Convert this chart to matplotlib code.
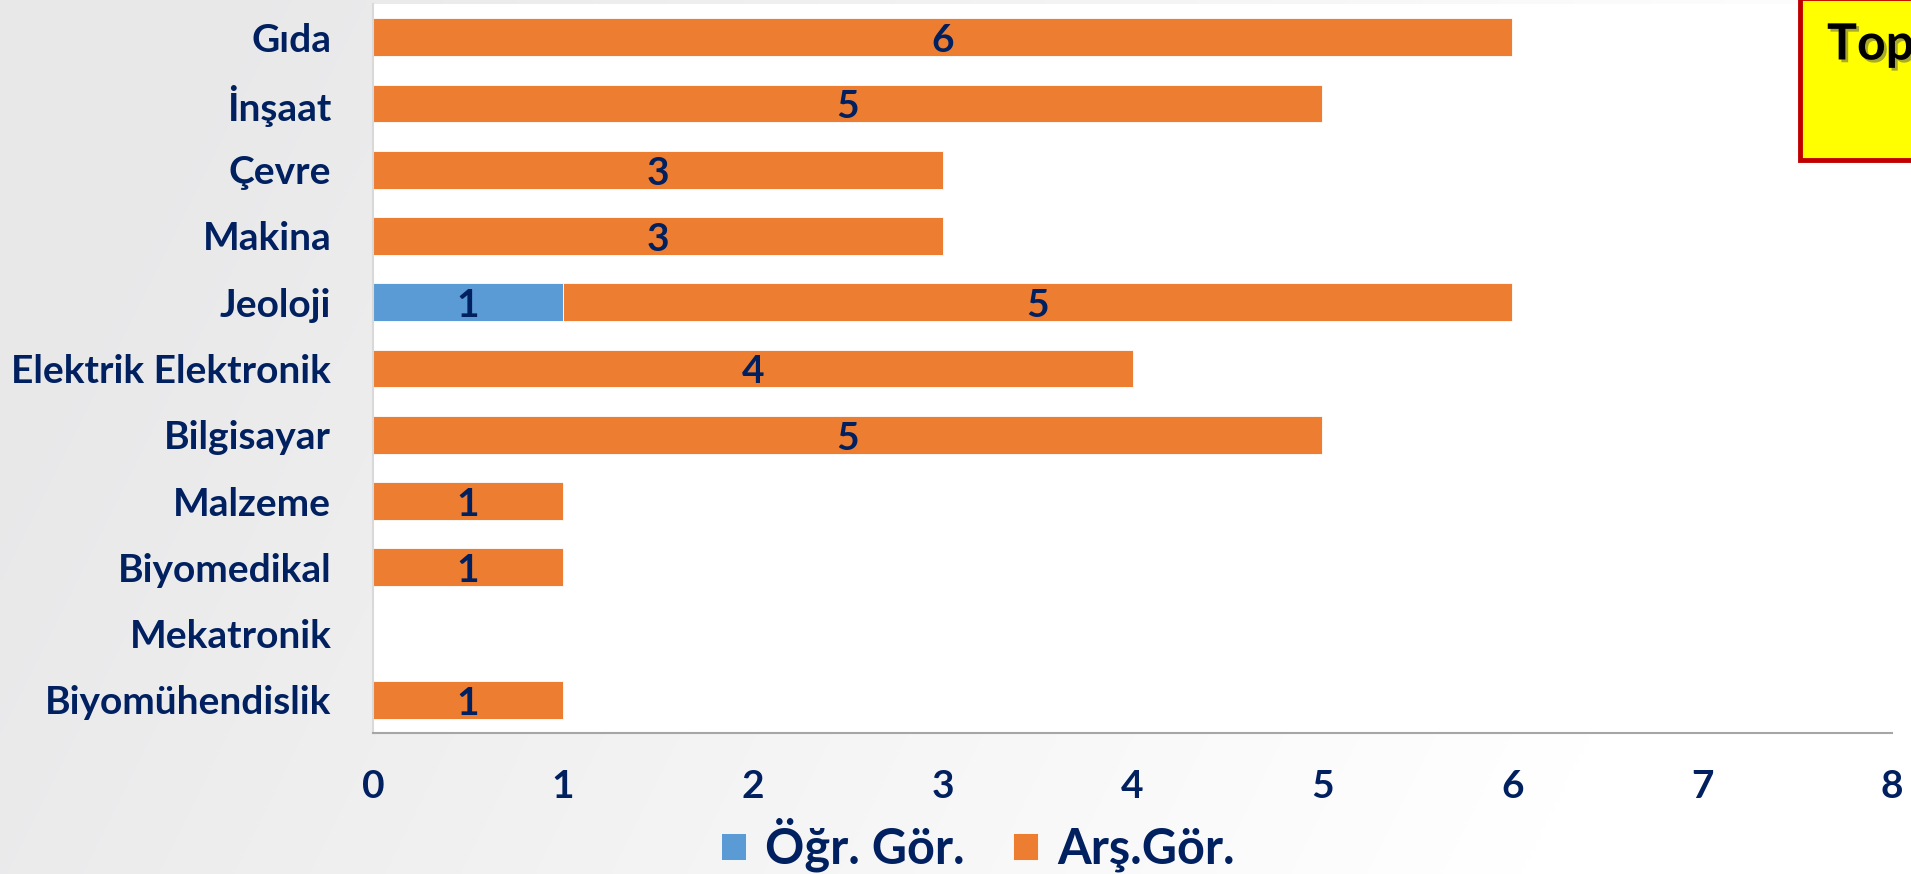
import numpy as np
import matplotlib
matplotlib.use("Agg")
import matplotlib.pyplot as plt
import matplotlib.patheffects as pe
from matplotlib.patches import Rectangle

# ---- data ----
categories = ["Gıda", "İnşaat", "Çevre", "Makina", "Jeoloji", "Elektrik Elektronik",
              "Bilgisayar", "Malzeme", "Biyomedikal", "Mekatronik", "Biyomühendislik"]
ogr_gor = [0, 0, 0, 0, 1, 0, 0, 0, 0, 0, 0]
ars_gor = [6, 5, 3, 3, 5, 4, 5, 1, 1, 0, 1]
series_names = ["Öğr. Gör.", "Arş.Gör."]
x_ticks = [0, 1, 2, 3, 4, 5, 6, 7, 8]
box_text = "Top"

plt.rcParams['font.family'] = ['Lato', 'DejaVu Sans']
plt.rcParams['font.weight'] = 'bold'
NAVY = "#002060"
BLUE = "#5B9BD5"
ORANGE = "#ED7D31"

W, H = 1911, 874
fig = plt.figure(figsize=(W / 100, H / 100), dpi=100)

# background gradient (smooth, light gray at left to white at right)
bg = fig.add_axes([0, 0, 1, 1], zorder=-10)
xx, yy = np.meshgrid(np.linspace(0, 1, 400), np.linspace(0, 1, 200))
g = np.clip(1.1 * xx + 0.25 * (yy - 0.5), 0, 1)
c0 = np.array([0.91, 0.91, 0.915])
c1 = np.array([1.0, 1.0, 1.0])
img = c0[None, None, :] * (1 - g[..., None]) + c1[None, None, :] * g[..., None]
bg.imshow(img, aspect='auto', extent=[0, 1, 0, 1], origin='upper', interpolation='bilinear')
bg.axis('off')

left, right = 373 / W, 1892 / W
bottom, top = 1 - 733 / H, 1 - 4 / H
ax = fig.add_axes([left, bottom, right - left, top - bottom])
ax.set_facecolor('white')

n = len(categories)
y = np.arange(n)
b1 = ax.barh(y, ogr_gor, height=0.57, color=BLUE, edgecolor='white', linewidth=0.6, label=series_names[0])
b2 = ax.barh(y, ars_gor, left=ogr_gor, height=0.57, color=ORANGE, edgecolor='white', linewidth=0.6, label=series_names[1])

for yi, a, b in zip(y, ogr_gor, ars_gor):
    if a:
        ax.annotate(str(a), (a / 2, yi), xytext=(0, -2.5), textcoords='offset points',
                    ha='center', va='center', color=NAVY, fontsize=28, fontweight='bold')
    if b:
        ax.annotate(str(b), (a + b / 2, yi), xytext=(0, -2.5), textcoords='offset points',
                    ha='center', va='center', color=NAVY, fontsize=28, fontweight='bold')

ax.set_ylim(n - 0.5, -0.5)
ax.set_xlim(0, 8)
ax.set_yticks(y)
ax.set_yticklabels(categories)
ax.set_xticks(x_ticks)
ax.tick_params(axis='both', length=0, labelsize=28, colors=NAVY)
ax.tick_params(axis='y', pad=30)
ax.tick_params(axis='x', pad=26)
for lab in ax.get_xticklabels() + ax.get_yticklabels():
    lab.set_fontweight('bold')
for s in ['top', 'right']:
    ax.spines[s].set_visible(False)
ax.spines['left'].set_color('#d9d9d9')
ax.spines['left'].set_linewidth(1.5)
ax.spines['bottom'].set_color('#a6a6a6')
ax.spines['bottom'].set_linewidth(1.5)

leg = fig.legend(handles=[b1, b2], labels=series_names, loc='center',
                 bbox_to_anchor=(978 / W, 1 - 845 / H), ncol=2, frameon=False,
                 fontsize=35, handlelength=0.5, handleheight=0.5,
                 handletextpad=0.4, columnspacing=1.0, borderaxespad=0)
for t in leg.get_texts():
    t.set_color(NAVY)
    t.set_fontweight('bold')

# top-right yellow box (cut off at figure edge)
box = Rectangle((1800 / W, 1 - 160 / H), 200 / W, 162 / H, transform=fig.transFigure,
                facecolor='#FFFF00', edgecolor='#C00000', linewidth=3.5, zorder=5)
fig.patches.append(box)
fig.text(1827 / W, 1 - 45 / H, box_text, fontsize=36, fontweight='bold', color='black',
         va='center', ha='left', zorder=6,
         path_effects=[pe.SimplePatchShadow(offset=(2, -2), shadow_rgbFace='#555555', alpha=0.5), pe.Normal()])

fig.savefig("out.png", dpi=100)
